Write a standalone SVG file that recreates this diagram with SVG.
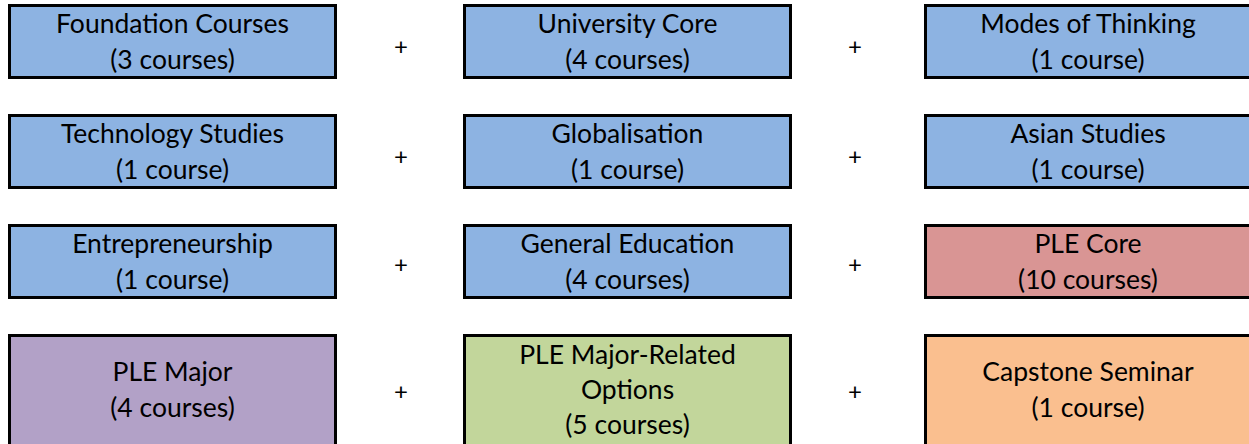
<svg xmlns="http://www.w3.org/2000/svg" width="1249" height="444" viewBox="0 0 1249 444">
<style>
.box{stroke:#000;stroke-width:3}
.blue{fill:#8DB3E2}.red{fill:#D99594}.purple{fill:#B2A1C7}.green{fill:#C2D69B}.orange{fill:#FABF8F}
text{font-family:Lato,"Open Sans","Liberation Sans",sans-serif;font-size:26.5px;fill:#000;text-anchor:middle;dominant-baseline:central}
.plus{font-size:24px}
</style>
<rect width="1249" height="444" fill="#fff"/>
<g id="n1"><rect class="box blue" x="9.5" y="5.5" width="326" height="72"/><text x="172.5" y="23">Foundation Courses</text><text x="172.5" y="59">(3 courses)</text></g>
<g id="n2"><rect class="box blue" x="464.5" y="5.5" width="326" height="72"/><text x="627.5" y="23">University Core</text><text x="627.5" y="59">(4 courses)</text></g>
<g id="n3"><rect class="box blue" x="925.5" y="5.5" width="326" height="72"/><text x="1088" y="23">Modes of Thinking</text><text x="1088" y="59">(1 course)</text></g>
<g id="n4"><rect class="box blue" x="9.5" y="115.5" width="326" height="72"/><text x="172.5" y="133">Technology Studies</text><text x="172.5" y="169">(1 course)</text></g>
<g id="n5"><rect class="box blue" x="464.5" y="115.5" width="326" height="72"/><text x="627.5" y="133">Globalisation</text><text x="627.5" y="169">(1 course)</text></g>
<g id="n6"><rect class="box blue" x="925.5" y="115.5" width="326" height="72"/><text x="1088" y="133">Asian Studies</text><text x="1088" y="169">(1 course)</text></g>
<g id="n7"><rect class="box blue" x="9.5" y="225.5" width="326" height="72"/><text x="172.5" y="243">Entrepreneurship</text><text x="172.5" y="279">(1 course)</text></g>
<g id="n8"><rect class="box blue" x="464.5" y="225.5" width="326" height="72"/><text x="627.5" y="243">General Education</text><text x="627.5" y="279">(4 courses)</text></g>
<g id="n9"><rect class="box red" x="925.5" y="225.5" width="326" height="72"/><text x="1088" y="243">PLE Core</text><text x="1088" y="279">(10 courses)</text></g>
<g id="n10"><rect class="box purple" x="9.5" y="335.5" width="326" height="110"/><text x="172.5" y="371">PLE Major</text><text x="172.5" y="407">(4 courses)</text></g>
<g id="n11"><rect class="box green" x="464.5" y="335.5" width="326" height="110"/><text x="627.5" y="354">PLE Major-Related</text><text x="627.5" y="389">Options</text><text x="627.5" y="424">(5 courses)</text></g>
<g id="n12"><rect class="box orange" x="925.5" y="335.5" width="326" height="110"/><text x="1088" y="371">Capstone Seminar</text><text x="1088" y="407">(1 course)</text></g>
<g id="connectors">
<text class="plus" x="401" y="45">+</text><text class="plus" x="855" y="45">+</text>
<text class="plus" x="401" y="155">+</text><text class="plus" x="855" y="155">+</text>
<text class="plus" x="401" y="263">+</text><text class="plus" x="855" y="263">+</text>
<text class="plus" x="401" y="390">+</text><text class="plus" x="855" y="390">+</text>
</g>
</svg>
